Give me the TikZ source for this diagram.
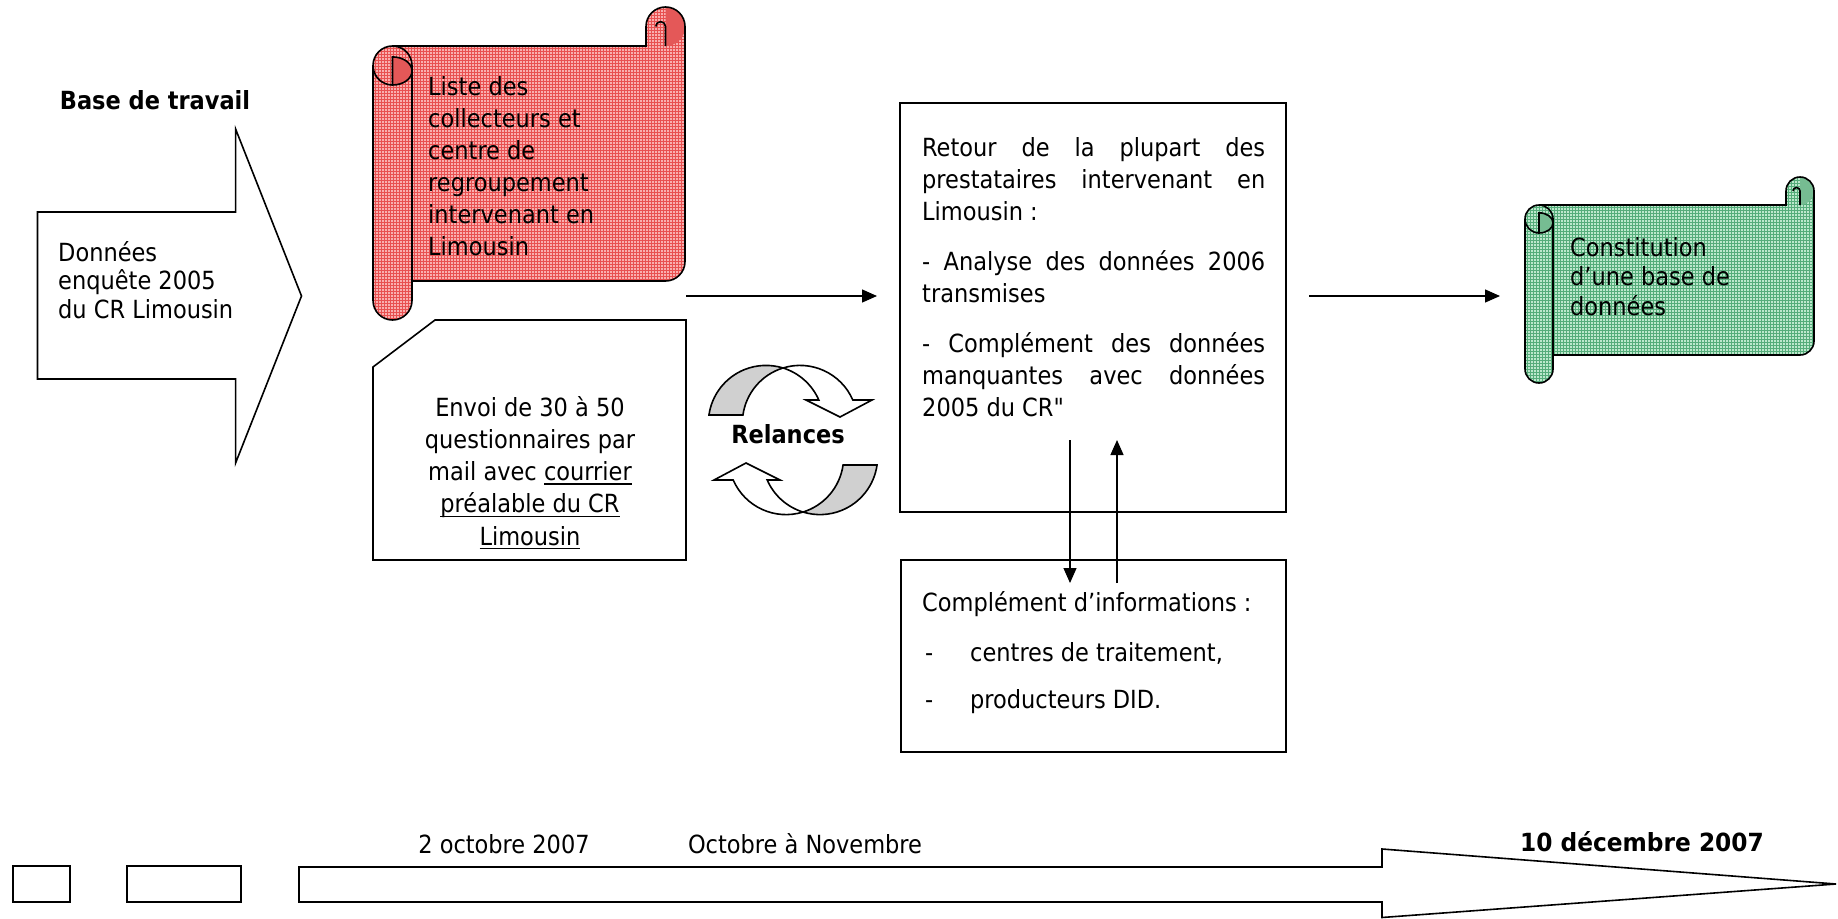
\documentclass[tikz,border=0pt]{standalone}
\usepackage{fontspec}
\IfFontExistsTF{DejaVu Sans Condensed}{\setmainfont{DejaVu Sans Condensed}[Ligatures=TeXOff]}{\setmainfont{DejaVu Sans}[FakeStretch=0.9,Ligatures=TeXOff]}
\usepackage{graphicx}
\usetikzlibrary{arrows.meta,patterns}
\newcommand\undl[1]{\setbox0=\hbox{#1}\rlap{\rule[-4.2pt]{\wd0}{1.4pt}}\box0}
\tolerance=9999
\definecolor{redbase}{RGB}{249,175,175}
\definecolor{redline}{RGB}{232,80,80}
\definecolor{reddark}{RGB}{228,88,88}
\definecolor{grnbase}{RGB}{188,232,204}
\definecolor{grnline}{RGB}{85,172,122}
\definecolor{grndark}{RGB}{118,188,146}
\definecolor{relgray}{RGB}{208,208,208}
% scroll: L T R B d colourprefix
\newcommand\drawscroll[6]{%
 \pgfmathsetmacro\scL{#1}%
 \pgfmathsetmacro\scT{#2}%
 \pgfmathsetmacro\scR{#3}%
 \pgfmathsetmacro\scB{#4}%
 \pgfmathsetmacro\scD{#5}%
 \pgfmathsetmacro\scr{#5/2}%
 \pgfmathsetmacro\scq{#5*0.36}%
 \pgfmathsetmacro\sch{#5/8}%
 \fill[fill=#6base,postaction={pattern=grid,pattern color=#6line}] ({\scL+\scr},{\scT+\scD}) -- (\scR,{\scT+\scD}) -- (\scR,{\scB-\scD-\scr}) arc[start angle=0,end angle=90,radius=\scr] -- ({\scL+\scr},{\scB-\scD}) -- cycle;
 \fill[fill=#6base,postaction={pattern=grid,pattern color=#6line}] ({\scR-\scD},{\scT+\scD+1}) -- ({\scR-\scD},{\scT+\scr}) arc[start angle=180,end angle=360,radius=\scr] -- (\scR,{\scT+\scD+1}) -- cycle;
 \fill[#6dark] ({\scR-\scr},\scT) arc[start angle=-90,end angle=90,radius=\scr] -- cycle;
 \draw[shp] ({\scL+\scr},{\scT+\scD}) -- ({\scR-\scD},{\scT+\scD}) -- ({\scR-\scD},{\scT+\scr}) arc[start angle=180,end angle=360,radius=\scr] -- (\scR,{\scB-\scD-\scr}) arc[start angle=0,end angle=90,radius=\scr] -- ({\scL+\scr},{\scB-\scD});
 \draw[shp] ({\scR-\scr},{\scT+\scD}) -- ({\scR-\scr},{\scT+\scr}) arc[start angle=0,end angle=-180,radius=\sch];
 \fill[fill=#6base,postaction={pattern=grid,pattern color=#6line}] (\scL,{\scT+\scD+\scr}) arc[start angle=180,end angle=360,radius=\scr] -- ({\scL+\scD},{\scB-\scr}) arc[start angle=0,end angle=180,radius=\scr] -- cycle;
 \draw[shp] (\scL,{\scT+\scD+\scr}) arc[start angle=180,end angle=360,radius=\scr] -- ({\scL+\scD},{\scB-\scr}) arc[start angle=0,end angle=180,radius=\scr] -- cycle;
 \filldraw[shp,fill=#6dark] ({\scL+\scr},{\scT+2*\scD-2*\scq}) arc[start angle=-90,end angle=90,x radius=\scr,y radius=\scq] -- cycle;
 \draw[shp] (\scL,{\scT+\scD+\scr}) arc[start angle=180,end angle=90,radius=\scr];
}
\newcommand\relarrow{%
 \filldraw[shp,fill=relgray] ([shift={(766,423)}]188:57.6) arc[start angle=188,end angle=287.16,radius=57.6] arc[start angle=252.84,end angle=188,radius=57.6] -- cycle;
 \filldraw[shp,fill=white] ([shift={(800,423)}]252.84:57.6) arc[start angle=252.84,end angle=336.5,radius=57.6] -- (872,400) -- (840,417) -- (806,400) -- ([shift={(766,423)}]336.5:57.6) arc[start angle=336.5,end angle=287.16,radius=57.6] -- cycle;
}
\begin{document}
\begin{tikzpicture}[x=1pt,y=-1pt,
  shp/.style={line width=1.6pt,line join=miter},
  conn/.style={line width=1.3pt,-{Triangle[length=15pt,width=13pt]}},
  txt/.style={inner sep=0pt,font=\fontsize{25}{32}\selectfont},
  boldtxt/.style={inner sep=0pt,font=\bfseries\fontsize{25}{30}\selectfont},
  boxnode/.style={shp,draw,inner sep=0pt}]
\useasboundingbox (0,0) rectangle (1838,918);
\fill[white] (0,0) rectangle (1838,918);

% left block arrow
\draw[shp] (37.5,212) -- (235.6,212) -- (235.6,129) -- (301.5,296) -- (235.6,463) -- (235.6,379) -- (37.5,379) -- cycle;
% base anchor of a multi-line node = baseline of its last line
\node[txt,anchor=base west,align=left,font=\fontsize{25}{28.5}\selectfont] (donnees) at (58,318) {Données\\enquête 2005\\du CR Limousin};
\node[boldtxt,anchor=base] (basetravail) at (155,109) {Base de travail};

% red scroll
\drawscroll{373}{7}{685}{320}{39}{red}
\node[txt,anchor=base west,align=left] (liste) at (428,255) {Liste des\\collecteurs et\\centre de\\regroupement\\intervenant en\\Limousin};

% envoi box
\draw[shp] (435,320) -- (686,320) -- (686,560) -- (373,560) -- (373,367) -- cycle;
\node[txt,anchor=base,align=center,font=\fontsize{25}{32.2}\selectfont] (envoi) at (530,545) {Envoi de 30 à 50\\questionnaires par\\mail avec \undl{courrier}\\\undl{préalable du CR}\\\undl{Limousin}};

% relances
\relarrow
\begin{scope}[rotate around={180:(793,440)}]
\relarrow
\end{scope}
\node[boldtxt,anchor=base] (relances) at (788,443) {Relances};

% retour box
\node[boxnode,minimum width=386pt,minimum height=409pt] (retour) at (1093,307.5) {};
\node[txt,anchor=base west,text width=343pt,align=justify] (retourtxt) at (922,156) {\parindent=0pt\noindent Retour de la plupart des\linebreak prestataires intervenant en\linebreak Limousin~:\par\vspace{18pt}\noindent- Analyse des données 2006\linebreak transmises\par\vspace{18pt}\noindent- Complément des données\linebreak manquantes avec données\linebreak 2005 du CR"};

% complement box
\node[boxnode,minimum width=385pt,minimum height=192pt] (compl) at (1093.5,656) {};
\node[txt,anchor=base west,align=left] (compltxt) at (922,708) {Complément d’informations :\\[18pt]\makebox[48pt][l]{\hspace{3pt}-}centres de traitement,\\[15pt]\makebox[48pt][l]{\hspace{3pt}-}producteurs DID.};

% connectors
\coordinate (r1) at (686,296);
\coordinate (r2) at (877,296);
\draw[conn] (r1) -- (r2);
\coordinate (g1) at (1309,296);
\coordinate (g2) at (1500,296);
\draw[conn] (g1) -- (g2);
\coordinate (d1) at (1070,440);
\coordinate (d2) at (1070,583);
\draw[conn] (d1) -- (d2);
\coordinate (u1) at (1117,583);
\coordinate (u2) at (1117,440);
\draw[conn] (u1) -- (u2);

% green scroll
\drawscroll{1525}{177}{1814}{383}{28}{grn}
\node[txt,anchor=base west,align=left,font=\fontsize{25}{29.5}\selectfont] (constit) at (1570,315) {Constitution\\d’une base de\\données};

% timeline
\node[boxnode,minimum width=57pt,minimum height=36pt] (t1) at (41.4,884) {};
\node[boxnode,minimum width=114pt,minimum height=36pt] (t2) at (184,884) {};
\draw[shp] (299,867) -- (1382,867) -- (1382,849) -- (1836,884) -- (1382,917.5) -- (1382,902) -- (299,902) -- cycle;
\node[txt,anchor=base] (oct2) at (504,853) {2 octobre 2007};
\node[txt,anchor=base] (octnov) at (805,853) {Octobre à Novembre};
\node[boldtxt,anchor=base] (dec10) at (1642,851) {\scalebox{1.035}[1]{10 décembre 2007}};
\end{tikzpicture}
\end{document}
